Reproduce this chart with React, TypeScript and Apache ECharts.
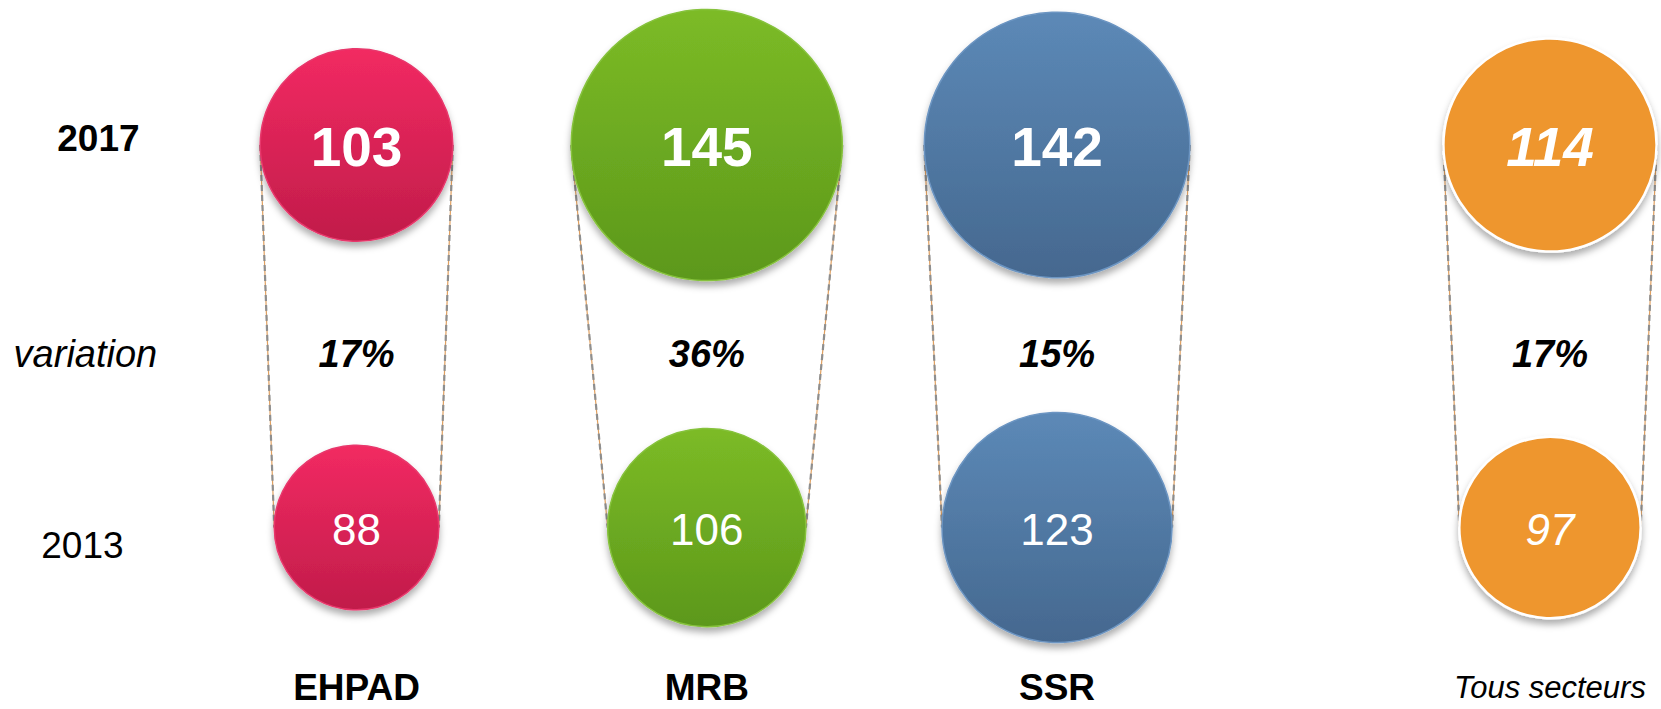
import React, { useEffect, useRef } from "react";
import * as echarts from "echarts";

// ---- data ----
const sectors = ["EHPAD", "MRB", "SSR"];
const totalCategory = ["Tous secteurs"];
const rows = ["2013", "variation", "2017"];
const values2017 = [103, 145, 142];
const values2013 = [88, 106, 123];
const variations = [17, 36, 15];
const total2017 = [114];
const total2013 = [97];
const totalVariation = [17];

// ---- styling ----
const FONT = "'Liberation Sans', Arial, Helvetica, sans-serif";
const SIZE_PER_UNIT = 1.87; // circle diameter (px) per unit of value
const sectorColors = [
  { top: "#F22A62", bottom: "#C11C4A", border: "#E8386C" },
  { top: "#7CBB26", bottom: "#5C981B", border: "#86C23C" },
  { top: "#5C89B7", bottom: "#45688F", border: "#6C95C2" },
];
const totalColor = "#EE962F";

function gradient(c: { top: string; bottom: string }) {
  return new echarts.graphic.LinearGradient(0, 0, 0, 1, [
    { offset: 0, color: c.top },
    { offset: 1, color: c.bottom },
  ]);
}

const shadow = {
  shadowBlur: 7,
  shadowOffsetY: 5,
  shadowColor: "rgba(0,0,0,0.32)",
};

export default function App() {
  const ref = useRef<HTMLDivElement>(null);

  useEffect(() => {
    document.body.style.margin = "0";
    if (!ref.current) return;
    const chart = echarts.init(ref.current, null, { renderer: "svg" });

    const sectorItems = (vals: number[], row: string) =>
      vals.map((v, i) => ({
        value: [sectors[i], row, v],
        itemStyle: {
          color: gradient(sectorColors[i]),
          borderColor: sectorColors[i].border,
          borderWidth: 1.5,
          opacity: 1,
          ...shadow,
        },
      }));

    const connectorData = (vTop: number[], vBot: number[]) =>
      vTop.map((v, i) => [i, 2, v, vBot[i]]);

    const renderConnector = (params: any, api: any) => {
      const cat = api.value(0);
      const rTop = (api.value(2) * SIZE_PER_UNIT) / 2;
      const rBot = (api.value(3) * SIZE_PER_UNIT) / 2;
      const pTop = api.coord([cat, 2]);
      const pBot = api.coord([cat, 0]);
      const mk = (x1: number, y1: number, x2: number, y2: number) => [
        {
          type: "line",
          shape: { x1, y1, x2, y2 },
          style: { stroke: "#E0A060", lineWidth: 1.2 },
        },
        {
          type: "line",
          shape: { x1, y1, x2, y2 },
          style: { stroke: "#8E8E8E", lineWidth: 2.2, lineDash: [6, 4] },
        },
      ];
      return {
        type: "group",
        children: [
          ...mk(pTop[0] - rTop, pTop[1], pBot[0] - rBot, pBot[1]),
          ...mk(pTop[0] + rTop, pTop[1], pBot[0] + rBot, pBot[1]),
        ],
      };
    };

    const labelBig = {
      show: true,
      position: "inside",
      color: "#fff",
      fontFamily: FONT,
      fontSize: 55,
      fontWeight: "bold",
      offset: [0, 2],
      formatter: (p: any) => String(p.value[2]),
    };
    const labelSmall = {
      show: true,
      position: "inside",
      color: "#fff",
      fontFamily: FONT,
      fontSize: 44,
      offset: [0, 2],
      formatter: (p: any) => String(p.value[2]),
    };
    const labelPct = {
      show: true,
      position: "inside",
      color: "#000",
      fontFamily: FONT,
      fontSize: 38,
      fontWeight: "bold",
      fontStyle: "italic",
      offset: [0, 18],
      formatter: (p: any) => p.value[2] + "%",
    };

    const axisCommon = {
      axisLine: { show: false },
      axisTick: { show: false },
      splitLine: { show: false },
    };

    const orangeStyle = {
      color: totalColor,
      borderColor: "#fff",
      borderWidth: 2.5,
      opacity: 1,
      ...shadow,
    };

    const option: any = {
      animation: false,
      backgroundColor: "#fff",
      grid: [
        { left: 181.4, top: 49.4, width: 1050.75, height: 573.75 },
        { left: 1450, top: 49.4, width: 200, height: 573.75 },
      ],
      xAxis: [
        {
          type: "category",
          gridIndex: 0,
          data: sectors,
          ...axisCommon,
          axisLabel: {
            margin: 64,
            verticalAlign: "middle",
            lineHeight: 36,
            fontFamily: FONT,
            fontSize: 37,
            fontWeight: "bold",
            color: "#000",
          },
        },
        {
          type: "category",
          gridIndex: 1,
          data: totalCategory,
          ...axisCommon,
          axisLabel: {
            margin: 64,
            verticalAlign: "middle",
            lineHeight: 31,
            fontFamily: FONT,
            fontSize: 31,
            fontStyle: "italic",
            color: "#000",
          },
        },
      ],
      yAxis: [
        {
          type: "category",
          gridIndex: 0,
          data: rows,
          ...axisCommon,
          axisLabel: {
            margin: 93,
            align: "center",
            verticalAlign: "middle",
            formatter: (v: string) =>
              v === "2017" ? "{a|" + v + "}" : v === "variation" ? "{b|" + v + "}" : "{c|" + v + "}",
            rich: {
              a: { fontFamily: FONT, fontSize: 37, fontWeight: "bold", color: "#000", padding: [0, 0, 14, 20] },
              b: { fontFamily: FONT, fontSize: 38, fontStyle: "italic", color: "#000", padding: [36, 6, 0, 0] },
              c: { fontFamily: FONT, fontSize: 37, color: "#000", padding: [36, 12, 0, 0] },
            },
          },
        },
        {
          type: "category",
          gridIndex: 1,
          data: rows,
          ...axisCommon,
          axisLabel: { show: false },
        },
      ],
      series: [
        {
          type: "custom",
          xAxisIndex: 0,
          yAxisIndex: 0,
          z: 1,
          encode: { x: 0, y: 1 },
          data: connectorData(values2017, values2013),
          renderItem: renderConnector,
        },
        {
          type: "custom",
          xAxisIndex: 1,
          yAxisIndex: 1,
          z: 1,
          encode: { x: 0, y: 1 },
          data: connectorData(total2017, total2013),
          renderItem: renderConnector,
        },
        {
          name: "2017",
          type: "scatter",
          xAxisIndex: 0,
          yAxisIndex: 0,
          z: 3,
          symbolSize: (v: any) => v[2] * SIZE_PER_UNIT,
          data: sectorItems(values2017, "2017"),
          label: labelBig,
        },
        {
          name: "2013",
          type: "scatter",
          xAxisIndex: 0,
          yAxisIndex: 0,
          z: 3,
          symbolSize: (v: any) => v[2] * SIZE_PER_UNIT,
          data: sectorItems(values2013, "2013"),
          label: labelSmall,
        },
        {
          name: "variation",
          type: "scatter",
          xAxisIndex: 0,
          yAxisIndex: 0,
          z: 3,
          symbolSize: 0,
          itemStyle: { opacity: 1 },
          data: variations.map((v, i) => [sectors[i], "variation", v]),
          label: labelPct,
        },
        {
          name: "Tous 2017",
          type: "scatter",
          xAxisIndex: 1,
          yAxisIndex: 1,
          z: 3,
          symbolSize: (v: any) => v[2] * SIZE_PER_UNIT,
          itemStyle: orangeStyle,
          data: total2017.map((v, i) => [totalCategory[i], "2017", v]),
          label: { ...labelBig, fontStyle: "italic" },
        },
        {
          name: "Tous 2013",
          type: "scatter",
          xAxisIndex: 1,
          yAxisIndex: 1,
          z: 3,
          symbolSize: (v: any) => v[2] * SIZE_PER_UNIT,
          itemStyle: orangeStyle,
          data: total2013.map((v, i) => [totalCategory[i], "2013", v]),
          label: { ...labelSmall, fontStyle: "italic" },
        },
        {
          name: "Tous variation",
          type: "scatter",
          xAxisIndex: 1,
          yAxisIndex: 1,
          z: 3,
          symbolSize: 0,
          itemStyle: { opacity: 1 },
          data: totalVariation.map((v, i) => [totalCategory[i], "variation", v]),
          label: labelPct,
        },
      ],
    };

    chart.setOption(option);
    return () => chart.dispose();
  }, []);

  return <div ref={ref} style={{ width: 1661, height: 709 }} />;
}
